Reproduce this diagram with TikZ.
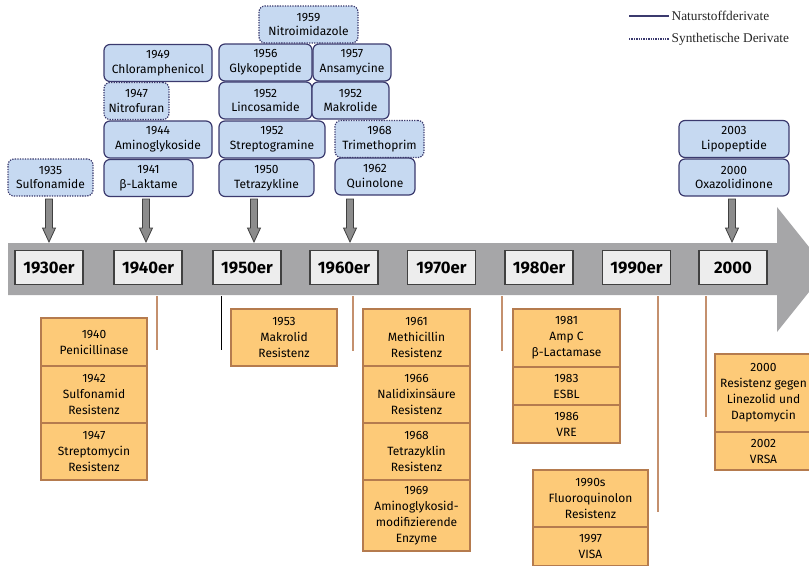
\documentclass[tikz,border=0pt]{standalone}
\usepackage{fontspec}
\setmainfont{Liberation Serif}
\setsansfont{Fira Sans}
\usepackage{tikz}
\usetikzlibrary{calc}
\definecolor{natblue}{HTML}{C6D9F1}
\definecolor{natline}{HTML}{3B3A6E}
\definecolor{resorange}{HTML}{FDCA78}
\definecolor{resline}{HTML}{B57B4E}
\definecolor{bandgray}{HTML}{A6A6A8}
\definecolor{tickbrown}{HTML}{C4906E}

\begin{document}
\begin{tikzpicture}[x=0.75pt,y=-0.75pt,
    nat/.style={draw=natline,fill=natblue,line width=0.9pt,rounded corners=4.5pt,align=center,
      font=\sffamily\fontsize{9}{11}\selectfont,inner sep=1pt,outer sep=0pt,minimum height=27.75pt},
    syn/.style={nat,dash pattern=on 1pt off 0.9pt},
    res/.style={draw=resline,fill=resorange,line width=0.9pt,align=center,
      font=\sffamily\fontsize{9}{12}\selectfont,inner sep=1pt,outer sep=0pt},
    decade/.style={draw=black!75,fill=black!7,line width=0.8pt,minimum width=51pt,minimum height=26pt,
      font=\sffamily\bfseries\fontsize{12.5}{14}\selectfont},
    fat/.style={draw=black!75,fill=black!45,line width=0.6pt},
    tick/.style={draw=tickbrown,line width=0.9pt}]
      \useasboundingbox (0,0) rectangle (809,565);
      \clip (0,0) rectangle (809,565);

      % zeitstrahl
      \fill[bandgray] (8,243) -- (777,243) -- (777,207) -- (827,269.5) -- (777,332) -- (777,295) -- (8,295) -- cycle;
      \foreach \x/\d [count=\i] in {49/1930er,148/1940er,247/1950er,344/1960er,441.5/1970er,539/1980er,636.5/1990er,733/2000}
        \node[decade] (d\i) at (\x,267.5) {\d};

      \foreach \x in {49,146,254,350,732}
        \draw[fat] (\x-3.5,199) -- (\x+3.5,199) -- (\x+3.5,228) -- (\x+6.5,228) -- (\x,242) -- (\x-6.5,228) -- (\x-3.5,228) -- cycle;

      \draw[tick] (157,296) -- (157,350);
      \draw[line width=0.6pt] (221,296) -- (221,350);
      \draw[tick] (353,296) -- (353,351);
      \draw[tick] (502,296) -- (502,351);
      \draw[tick] (658,296) -- (658,512);
      \draw[tick] (706,296) -- (706,417);

      % antibiotika
      \node[syn,minimum width=63.75pt] (su35) at (50.5,177.5) {1935\\Sulfonamide};
      \node[nat,minimum width=66.75pt] (bl41) at (148.5,178) {1941\\β-Laktame};
      \node[nat,minimum width=81pt] (am44) at (158,139.5) {1944\\Aminoglykoside};
      \node[syn,minimum width=48.75pt] (ni47) at (136.5,101) {1947\\Nitrofuran};
      \node[nat,minimum width=81pt] (ch49) at (158,63) {1949\\Chloramphenicol};
      \node[nat,minimum width=71.25pt] (te50) at (266.5,178) {1950\\Tetrazykline};
      \node[nat,minimum width=79.5pt] (st52) at (272,139.5) {1952\\Streptogramine};
      \node[nat,minimum width=69.75pt] (li52) at (265.5,100.5) {1952\\Lincosamide};
      \node[nat,minimum width=69.75pt] (gl56) at (265.5,62.5) {1956\\Glykopeptide};
      \node[nat,minimum width=58.5pt] (an57) at (352,62.5) {1957\\Ansamycine};
      \node[nat,minimum width=57.75pt] (ma52) at (350.5,100.5) {1952\\Makrolide};
      \node[syn,minimum width=74.25pt] (nm59) at (308.5,24.5) {1959\\Nitroimidazole};
      \node[syn,minimum width=66.75pt] (tr68) at (379.5,139) {1968\\Trimethoprim};
      \node[nat,minimum width=60pt] (qu62) at (375,176.5) {1962\\Quinolone};
      \node[nat,minimum width=82.5pt] (lp03) at (734,139) {2003\\Lipopeptide};
      \node[nat,minimum width=82.5pt] (ox00) at (734,177.5) {2000\\Oxazolidinone};

      % resistenzen
      \node[res,minimum width=79.5pt,minimum height=36pt] (r40) at (94,342) {1940\\Penicillinase};
      \node[res,minimum width=79.5pt,minimum height=42.75pt] (r42) at (94,394.5) {1942\\Sulfonamid\\Resistenz};
      \node[res,minimum width=79.5pt,minimum height=42.75pt] (r47) at (94,451.5) {1947\\Streptomycin\\Resistenz};
      \node[res,minimum width=79.5pt,minimum height=42.75pt] (r53) at (284,337.5) {1953\\Makrolid\\Resistenz};
      \node[res,minimum width=80.25pt,minimum height=42.75pt] (r61) at (416.5,337.5) {1961\\Methicillin\\Resistenz};
      \node[res,minimum width=80.25pt,minimum height=42.75pt] (r66) at (416.5,394.5) {1966\\Nalidixinsäure\\Resistenz};
      \node[res,minimum width=80.25pt,minimum height=42.75pt] (r68) at (416.5,451.5) {1968\\Tetrazyklin\\Resistenz};
      \node[res,minimum width=80.25pt,minimum height=53.25pt] (r69) at (416.5,515.5) {1969\\Aminoglykosid-\\modifizierende\\Enzyme};
      \node[res,minimum width=80.25pt,minimum height=43.5pt] (r81) at (566.5,338) {1981\\Amp C\\β-Lactamase};
      \node[res,minimum width=80.25pt,minimum height=28.5pt] (r83) at (566.5,386) {1983\\ESBL};
      \node[res,minimum width=80.25pt,minimum height=28.5pt] (r86) at (566.5,424) {1986\\VRE};
      \node[res,minimum width=86.25pt,minimum height=42.75pt] (r90) at (590.5,498.5) {1990s\\Fluoroquinolon\\Resistenz};
      \node[res,minimum width=86.25pt,minimum height=29.25pt] (r97) at (590.5,546.5) {1997\\VISA};
      \node[res,minimum width=72.75pt,minimum height=58.5pt] (r00) at (763.5,393) {2000\\Resistenz gegen\\Linezolid und\\Daptomycin};
      \node[res,minimum width=72.75pt,minimum height=28.5pt] (r02) at (763.5,451) {2002\\VRSA};

      % legende
      \draw[natline,line width=1pt] (629,16) -- (669,16) node[right,black!85,inner sep=1.5pt,font=\fontsize{10}{12}\selectfont] (lg1) {Naturstoffderivate};
      \draw[natline,line width=1pt,dash pattern=on 1pt off 0.8pt] (629,39) -- (669,39) node[right,black!85,inner sep=1.5pt,font=\fontsize{10}{12}\selectfont] (lg2) {Synthetische Derivate};
    \end{tikzpicture}
\end{document}
